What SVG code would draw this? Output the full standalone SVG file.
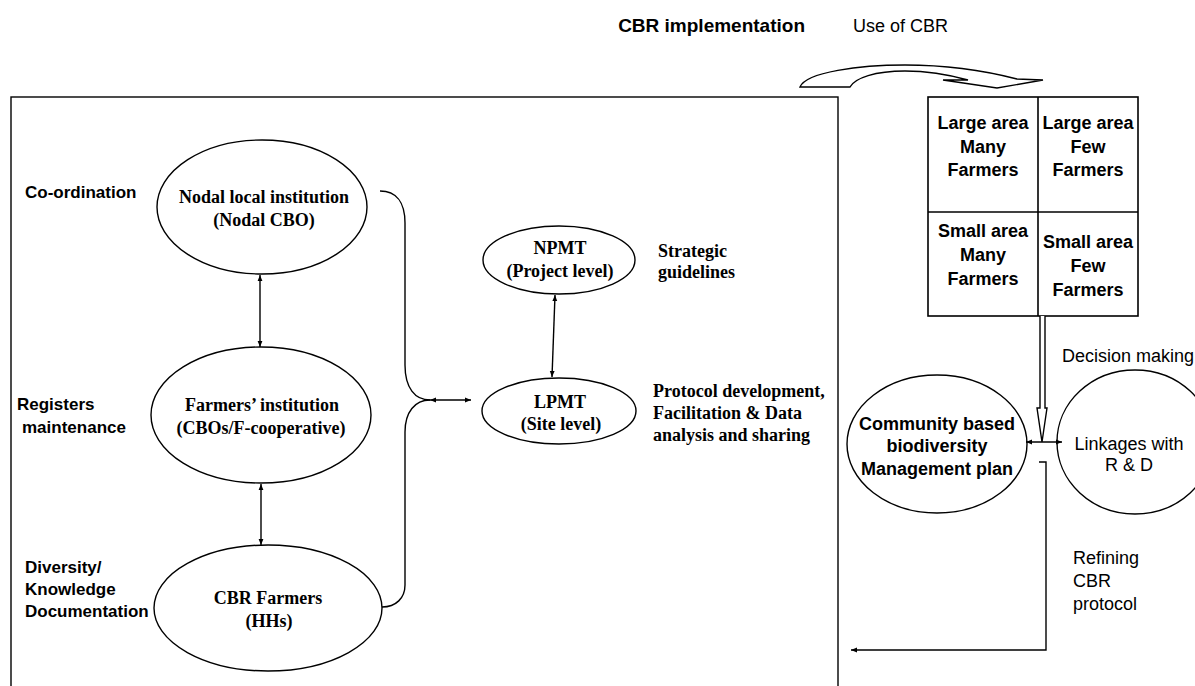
<svg xmlns="http://www.w3.org/2000/svg" width="1195" height="686" viewBox="0 0 1195 686">
<style>
.sh{fill:#fff;stroke:#000;stroke-width:1.4}
.ln{fill:none;stroke:#000;stroke-width:1.4}
.ab{font-family:"Liberation Sans",Arial,sans-serif;font-weight:bold;font-size:17px;fill:#000}
.ar{font-family:"Liberation Sans",Arial,sans-serif;font-size:18px;fill:#000}
.gb{font-family:"Liberation Sans",Arial,sans-serif;font-weight:bold;font-size:18px;fill:#000;text-anchor:middle}
.tb{font-family:"Liberation Serif","Times New Roman",serif;font-weight:bold;font-size:18px;fill:#000}
.c{text-anchor:middle}
</style>
<defs>
<marker id="ah" viewBox="0 0 10 10" refX="10" refY="5" markerWidth="7" markerHeight="6" markerUnits="userSpaceOnUse" orient="auto-start-reverse">
<path d="M0,1 L10,5 L0,9 Z" fill="#000"/>
</marker>
</defs>

<g id="headers">
<text class="ab" x="805" y="32" text-anchor="end" style="font-size:19px">CBR implementation</text>
<text class="ar" x="853" y="32">Use of CBR</text>
</g>

<g id="frame">
<rect x="11" y="97" width="827" height="620" fill="none" stroke="#000" stroke-width="1.4"/>
</g>

<g id="curved-arrow">
<path class="sh" d="M800,87 C806,72 860,65 905,65 C950,65 990,72 1017,79 L1043,80 L997,88 L943,80 L968,80 C950,75 925,71 905,71 C875,71 855,78 850,87 Z"/>
</g>

<g id="side-labels">
<text class="ab" x="25" y="198">Co-ordination</text>
<text class="ab" x="17" y="410">Registers</text>
<text class="ab" x="22" y="433">maintenance</text>
<text class="ab" x="25" y="573">Diversity/</text>
<text class="ab" x="25" y="595">Knowledge</text>
<text class="ab" x="25" y="617">Documentation</text>
</g>

<g id="nodal">
<ellipse class="sh" cx="262" cy="207" rx="105" ry="67"/>
<text class="tb c" x="264" y="203">Nodal local institution</text>
<text class="tb c" x="264" y="226">(Nodal CBO)</text>
</g>

<g id="farmers-institution">
<ellipse class="sh" cx="261" cy="415" rx="110" ry="68"/>
<text class="tb c" x="262" y="411">Farmers’ institution</text>
<text class="tb c" x="261" y="434">(CBOs/F-cooperative)</text>
</g>

<g id="cbr-farmers">
<ellipse class="sh" cx="268" cy="608" rx="114" ry="63"/>
<text class="tb c" x="268" y="604">CBR Farmers</text>
<text class="tb c" x="269" y="627">(HHs)</text>
</g>

<g id="npmt">
<ellipse class="sh" cx="559" cy="260" rx="76" ry="34"/>
<text class="tb c" x="560" y="254">NPMT</text>
<text class="tb c" x="560" y="277">(Project level)</text>
<text class="tb" x="658" y="257">Strategic</text>
<text class="tb" x="658" y="278">guidelines</text>
</g>

<g id="lpmt">
<ellipse class="sh" cx="559" cy="411" rx="77" ry="33"/>
<text class="tb c" x="560" y="408">LPMT</text>
<text class="tb c" x="561" y="430">(Site level)</text>
<text class="tb" x="653" y="397">Protocol development,</text>
<text class="tb" x="653" y="419">Facilitation &amp; Data</text>
<text class="tb" x="653" y="441">analysis and sharing</text>
</g>

<g id="grid">
<rect x="928" y="97" width="210" height="219" fill="#fff" stroke="#000" stroke-width="1.6"/>
<line x1="1038" y1="97" x2="1038" y2="316" stroke="#000" stroke-width="1.6"/>
<line x1="928" y1="212" x2="1138" y2="212" stroke="#000" stroke-width="1.6"/>
<text class="gb" x="983" y="129">Large area</text>
<text class="gb" x="983" y="153">Many</text>
<text class="gb" x="983" y="176">Farmers</text>
<text class="gb" x="1088" y="129">Large area</text>
<text class="gb" x="1088" y="153">Few</text>
<text class="gb" x="1088" y="176">Farmers</text>
<text class="gb" x="983" y="237">Small area</text>
<text class="gb" x="983" y="261">Many</text>
<text class="gb" x="983" y="285">Farmers</text>
<text class="gb" x="1088" y="248">Small area</text>
<text class="gb" x="1088" y="272">Few</text>
<text class="gb" x="1088" y="296">Farmers</text>
</g>

<g id="community">
<ellipse class="sh" cx="937" cy="444" rx="90" ry="69"/>
<text class="gb" x="937" y="430">Community based</text>
<text class="gb" x="937" y="452">biodiversity</text>
<text class="gb" x="937" y="475">Management plan</text>
</g>

<g id="linkages">
<ellipse class="sh" cx="1135" cy="442" rx="78" ry="72"/>
<text class="ar c" x="1129" y="450">Linkages with</text>
<text class="ar c" x="1129" y="471">R &amp; D</text>
</g>

<g id="connectors">
<line class="ln" x1="260" y1="275" x2="260" y2="347" marker-start="url(#ah)" marker-end="url(#ah)"/>
<line class="ln" x1="261" y1="484" x2="261" y2="545" marker-start="url(#ah)" marker-end="url(#ah)"/>
<path class="ln" d="M380,191 C396,191 405,202 405,223 L405,365 C405,388 415,400 430,400"/>
<path class="ln" d="M430,400 C415,400 405,412 405,432 L405,585 C405,598 396,607 382,607"/>
<line class="ln" x1="430" y1="400" x2="471" y2="400" marker-start="url(#ah)" marker-end="url(#ah)"/>
<line class="ln" x1="555" y1="295" x2="552" y2="377" marker-start="url(#ah)" marker-end="url(#ah)"/>
<path class="sh" d="M1040,316 L1040,408 L1037,408 L1042,442 L1047,408 L1045,408 L1045,316"/>
<line class="ln" x1="1026" y1="442" x2="1062" y2="442" marker-start="url(#ah)" marker-end="url(#ah)"/>
<path class="ln" d="M1039,462 L1046,462 L1046,650 L851,650" marker-end="url(#ah)"/>
<text class="ar" x="1062" y="362">Decision making</text>
<text class="ar" x="1073" y="564">Refining</text>
<text class="ar" x="1073" y="587">CBR</text>
<text class="ar" x="1073" y="610">protocol</text>
</g>
</svg>
